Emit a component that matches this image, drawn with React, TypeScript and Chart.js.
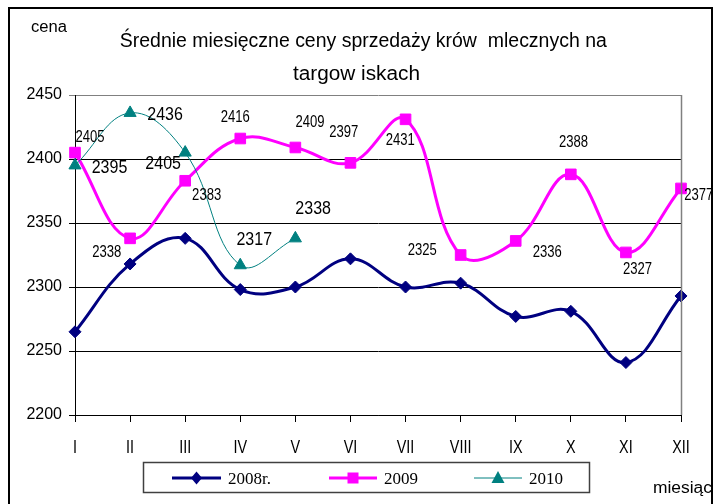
import React, { useEffect, useRef } from "react";
import { Chart, registerables } from "chart.js";

Chart.register(...registerables);

// ---- data ----
const months = ["I", "II", "III", "IV", "V", "VI", "VII", "VIII", "IX", "X", "XI", "XII"];
const series2008 = [2265, 2318, 2338, 2298, 2300, 2322, 2300, 2303, 2277, 2281, 2241, 2293];
const series2009 = [2405, 2338, 2383, 2416, 2409, 2397, 2431, 2325, 2336, 2388, 2327, 2377];
const series2010 = [2395, 2436, 2405, 2317, 2338];
const yTicks = [2200, 2250, 2300, 2350, 2400, 2450];
const seriesNames = ["2008r.", "2009", "2010"];
const titleLines = ["Średnie miesięczne ceny sprzedaży krów  mlecznych na", "targow iskach"];
const yAxisTitle = "cena";
const xAxisTitle = "miesiąc";

// ---- label placement (style: offsets of label centre from the point, px) ----
const labelOffsets2009 = [
  [15, -16.6], [-23.4, 12.3], [21.5, 13], [-5, -23], [14.6, -26.3], [-6.7, -32.3],
  [-5.3, 19.5], [-38.4, -6.5], [31.5, 9.6], [2.7, -33.9], [11.6, 15.6], [17.7, 5.4],
];
const labelOffsets2010 = [[34.5, 0.8], [35, 0.4], [-22, 10.4], [14, -26.2], [17.8, -30.9]];

const NAVY = "#000080";
const MAGENTA = "#FF00FF";
const TEAL = "#008080";
const SANS = '"Liberation Sans", Arial, sans-serif';
const SERIF = '"Liberation Serif", "Times New Roman", serif';

function drawScaled(ctx: CanvasRenderingContext2D, text: string, cx: number, cy: number, size: number, sx: number, family = SANS) {
  ctx.save();
  ctx.font = `${size}px ${family}`;
  ctx.fillStyle = "#000";
  ctx.textAlign = "center";
  ctx.textBaseline = "alphabetic";
  ctx.translate(cx, cy + size * 0.358);
  ctx.scale(sx, 1);
  ctx.fillText(text, 0, 0);
  ctx.restore();
}

function drawFit(ctx: CanvasRenderingContext2D, text: string, cx: number, baseline: number, size: number, width: number) {
  ctx.save();
  ctx.font = `${size}px ${SANS}`;
  ctx.fillStyle = "#000";
  const w = ctx.measureText(text).width;
  ctx.textAlign = "center";
  ctx.textBaseline = "alphabetic";
  ctx.translate(cx, baseline);
  ctx.scale(width / w, 1);
  ctx.fillText(text, 0, 0);
  ctx.restore();
}

function marker(ctx: CanvasRenderingContext2D, kind: string, x: number, y: number, color: string) {
  ctx.save();
  ctx.fillStyle = color;
  ctx.beginPath();
  if (kind === "diamond") {
    ctx.moveTo(x, y - 6.5);
    ctx.lineTo(x + 5.5, y);
    ctx.lineTo(x, y + 6.5);
    ctx.lineTo(x - 5.5, y);
  } else if (kind === "square") {
    ctx.rect(x - 5.5, y - 5.5, 11, 11);
  } else {
    ctx.moveTo(x, y - 7);
    ctx.lineTo(x + 6.5, y + 5);
    ctx.lineTo(x - 6.5, y + 5);
  }
  ctx.closePath();
  ctx.fill();
  ctx.restore();
}

const decorPlugin = {
  id: "decor",
  afterDraw(chart: any) {
    const ctx: CanvasRenderingContext2D = chart.ctx;
    const area = chart.chartArea;
    const xs = chart.scales.x;

    // plot area right border
    ctx.save();
    ctx.strokeStyle = "#808080";
    ctx.lineWidth = 1.5;
    ctx.beginPath();
    ctx.moveTo(Math.round(area.right) + 0.5, area.top);
    ctx.lineTo(Math.round(area.right) + 0.5, area.bottom);
    ctx.stroke();
    ctx.restore();

    // outer frame
    ctx.save();
    ctx.strokeStyle = "#000";
    ctx.lineWidth = 2;
    ctx.strokeRect(9, 8, 703, 520);
    ctx.restore();

    // title
    drawFit(ctx, titleLines[0], 363.3, 47.3, 20, 487);
    drawFit(ctx, titleLines[1], 356.5, 79.7, 20, 127);

    // axis titles
    drawFit(ctx, yAxisTitle, 49, 32, 16, 36);
    drawFit(ctx, xAxisTitle, 682.5, 493, 16, 59);

    // x labels
    months.forEach((m, i) => {
      const x = xs.getPixelForValue(i);
      drawScaled(ctx, m, x, 446.5, 18, 0.8);
    });

    // data labels
    const m2009 = chart.getDatasetMeta(1).data;
    series2009.forEach((v, i) => {
      const p = m2009[i];
      const o = labelOffsets2009[i];
      drawScaled(ctx, String(v), p.x + o[0], p.y + o[1], 17, 0.77);
    });
    const m2010 = chart.getDatasetMeta(2).data;
    series2010.forEach((v, i) => {
      const p = m2010[i];
      const o = labelOffsets2010[i];
      drawScaled(ctx, String(v), p.x + o[0], p.y + o[1], 18, 0.89);
    });

    // legend
    ctx.save();
    ctx.strokeStyle = "#404040";
    ctx.lineWidth = 1.5;
    ctx.strokeRect(143.5, 462.5, 446, 30);
    const items = [
      { x0: 172, x1: 221, color: NAVY, w: 3, kind: "diamond" },
      { x0: 329, x1: 377, color: MAGENTA, w: 3, kind: "square" },
      { x0: 474, x1: 522, color: TEAL, w: 1, kind: "triangle" },
    ];
    const ly = 478;
    items.forEach((it, i) => {
      ctx.strokeStyle = it.color;
      ctx.lineWidth = it.w;
      ctx.beginPath();
      ctx.moveTo(it.x0, ly);
      ctx.lineTo(it.x1, ly);
      ctx.stroke();
      marker(ctx, it.kind, (it.x0 + it.x1) / 2, ly, it.color);
      ctx.font = `17px ${SERIF}`;
      ctx.fillStyle = "#000";
      ctx.textAlign = "left";
      ctx.textBaseline = "alphabetic";
      ctx.fillText(seriesNames[i], it.x1 + 7, ly + 6);
    });
    ctx.restore();
  },
};

export default function App() {
  const ref = useRef<HTMLCanvasElement | null>(null);

  useEffect(() => {
    if (!ref.current) return;
    const chart = new Chart(ref.current, {
      type: "line",
      data: {
        labels: months,
        datasets: [
          {
            label: seriesNames[0],
            data: series2008,
            borderColor: NAVY,
            backgroundColor: NAVY,
            borderWidth: 3,
            pointStyle: "rectRot",
            pointRadius: 6,
            pointBackgroundColor: NAVY,
            pointBorderColor: NAVY,
            pointBorderWidth: 1,
            tension: 0.4,
            order: 2,
          },
          {
            label: seriesNames[1],
            data: series2009,
            borderColor: MAGENTA,
            backgroundColor: MAGENTA,
            borderWidth: 3,
            pointStyle: "rect",
            pointRadius: 7.5,
            pointBackgroundColor: MAGENTA,
            pointBorderColor: MAGENTA,
            pointBorderWidth: 1,
            tension: 0.4,
            order: 1,
          },
          {
            label: seriesNames[2],
            data: series2010,
            borderColor: TEAL,
            backgroundColor: TEAL,
            borderWidth: 1,
            pointStyle: "triangle",
            pointRadius: 7,
            pointBackgroundColor: TEAL,
            pointBorderColor: TEAL,
            pointBorderWidth: 1,
            tension: 0.4,
            order: 0,
          },
        ],
      },
      options: {
        responsive: false,
        animation: false,
        events: [],
        layout: { padding: { top: 95, right: 33, left: 0, bottom: 0 } },
        plugins: {
          legend: { display: false },
          title: { display: false },
          tooltip: { enabled: false },
        },
        scales: {
          x: {
            type: "category",
            offset: false,
            grid: { display: true, drawOnChartArea: false, drawTicks: true, tickLength: 7, color: "#000" },
            border: { display: true, color: "#000", width: 1 },
            ticks: { display: false },
            afterFit(s: any) {
              s.height = 89;
            },
          },
          y: {
            min: 2200,
            max: 2450,
            afterBuildTicks(s: any) {
              s.ticks = yTicks.map((v) => ({ value: v }));
            },
            grid: {
              color: (c: any) => (c.tick && c.tick.value === 2450 ? "#808080" : "#000"),
              tickLength: 6,
              drawTicks: true,
            },
            border: { display: true, color: "#000", width: 1 },
            ticks: {
              font: { family: SANS, size: 16 },
              color: "#000",
              padding: 7,
              callback: (v: any) => String(v),
            },
            afterFit(s: any) {
              s.width = 75;
            },
          },
        },
      },
      plugins: [decorPlugin],
    });
    return () => chart.destroy();
  }, []);

  return (
    <div style={{ position: "fixed", left: 0, top: 0, width: 714, height: 504, background: "#fff" }}>
      <canvas ref={ref} width={714} height={504} style={{ display: "block", width: 714, height: 504 }} />
    </div>
  );
}
